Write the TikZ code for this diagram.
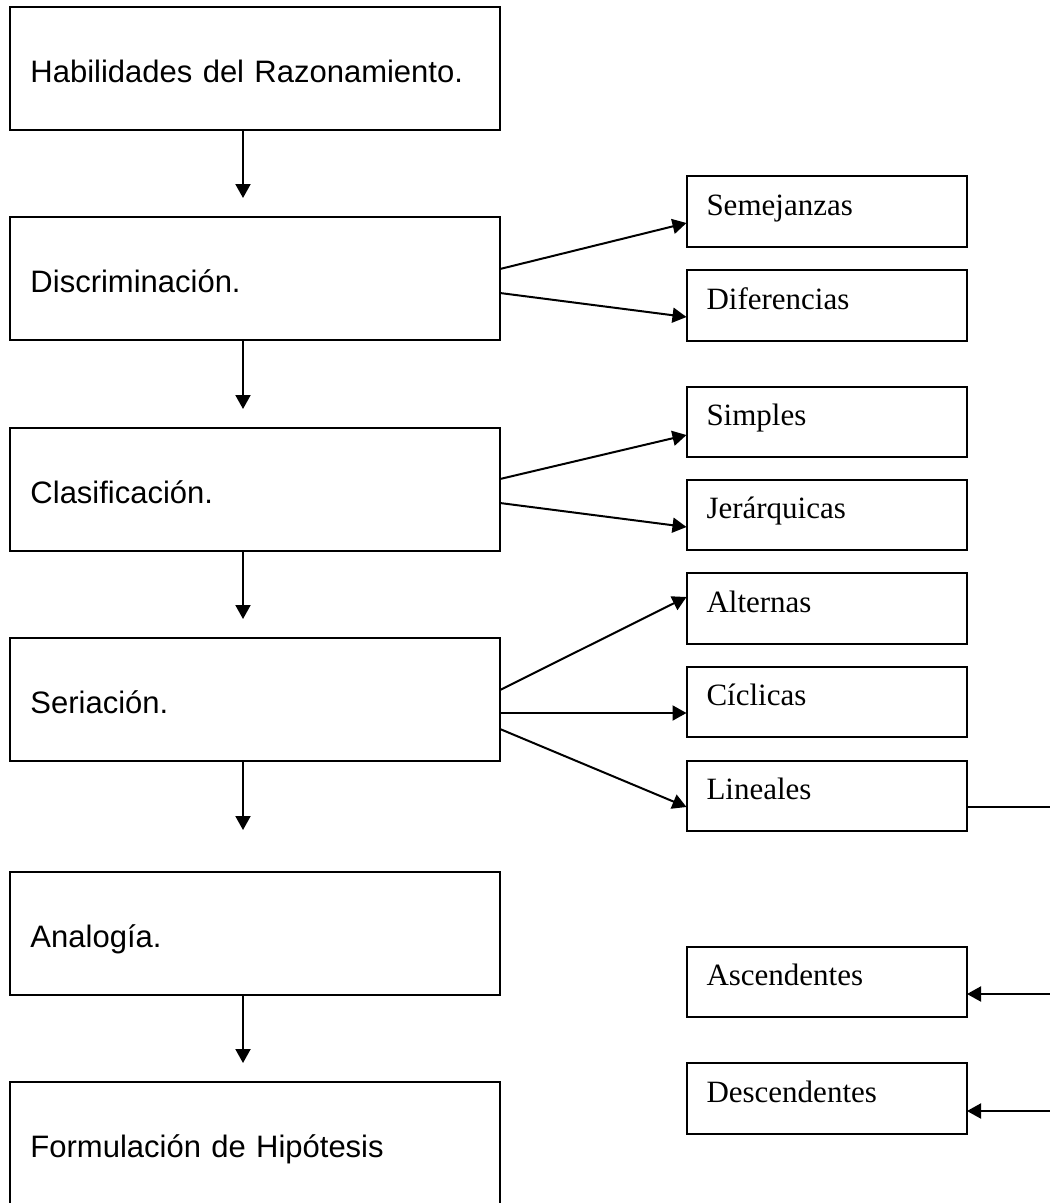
\documentclass[tikz,border=0pt]{standalone}
\usepackage{fontspec}
\newfontfamily\lsans{Liberation Sans}
\newfontfamily\lserif{Liberation Serif}
\usetikzlibrary{arrows.meta}
\tikzset{
  lbox/.style={draw, line width=2pt, rectangle, anchor=north west, outer sep=0pt,
    minimum width=490.5pt, minimum height=123pt, inner xsep=21pt, inner ysep=0pt,
    text width=448.5pt, align=left, text height=28pt, text depth=0pt,
    font=\lsans\fontsize{31}{37}\selectfont},
  rbox/.style={draw, line width=2pt, rectangle, anchor=north west, outer sep=0pt,
    minimum width=280.5pt, minimum height=70.5pt, inner xsep=20pt, inner ysep=0pt,
    text width=240.5pt, align=left, text height=18pt, text depth=10pt,
    font=\lserif\fontsize{31}{37}\selectfont},
  arr/.style={line width=2pt, -{Triangle[length=14pt,width=15pt]}},
  ln/.style={line width=2pt},
}
\begin{document}
\begin{tikzpicture}[x=1pt,y=-1pt]
\useasboundingbox (0,0) rectangle (1050,1203);
% left column
\node[lbox] (B1) at (9.5,7) {Habilidades del Razonamiento.};
\node[lbox] (B2) at (9.5,217) {Discriminación.};
\node[lbox] (B3) at (9.5,427.7) {Clasificación.};
\node[lbox] (B4) at (9.5,637.7) {Seriación.};
\node[lbox] (B5) at (9.5,871.7) {Analogía.};
\node[lbox] (B6) at (9.5,1081.7) {Formulación de Hipótesis};
% right column
\node[rbox] (R1) at (686.5,176) {Semejanzas};
\node[rbox] (R2) at (686.5,270) {Diferencias};
\node[rbox] (R3) at (686.5,386.7) {Simples};
\node[rbox] (R4) at (686.5,479.7) {Jerárquicas};
\node[rbox] (R5) at (686.5,573) {Alternas};
\node[rbox] (R6) at (686.5,666.7) {Cíclicas};
\node[rbox] (R7) at (686.5,760.7) {Lineales};
\node[rbox] (R8) at (686.5,946.7) {Ascendentes};
\node[rbox] (R9) at (686.5,1063.3) {Descendentes};
% free ends of vertical arrows
\coordinate (t1) at (243,198);
\coordinate (t2) at (243,409);
\coordinate (t3) at (243,619);
\coordinate (t4) at (243,830);
\coordinate (t5) at (243,1063);
\draw[arr] (B1.south -| t1) -- (t1);
\draw[arr] (B2.south -| t2) -- (t2);
\draw[arr] (B3.south -| t3) -- (t3);
\draw[arr] (B4.south -| t4) -- (t4);
\draw[arr] (B5.south -| t5) -- (t5);
% branches
\draw[arr] ([yshift=-52pt]B2.north east) -- ([yshift=-47pt]R1.north west);
\draw[arr] ([yshift=-76pt]B2.north east) -- ([yshift=-47pt]R2.north west);
\draw[arr] ([yshift=-51.3pt]B3.north east) -- ([yshift=-48.3pt]R3.north west);
\draw[arr] ([yshift=-75.3pt]B3.north east) -- ([yshift=-47.3pt]R4.north west);
\draw[arr] ([yshift=-52.3pt]B4.north east) -- ([yshift=-24pt]R5.north west);
\draw[arr] ([yshift=-75.3pt]B4.north east) -- ([yshift=-46.3pt]R6.north west);
\draw[arr] ([yshift=-91.3pt]B4.north east) -- ([yshift=-46.3pt]R7.north west);
% lines at right edge
\coordinate (e7) at (1052,806.7);
\coordinate (e8) at (1052,994);
\coordinate (e9) at (1052,1111);
\draw[ln] ([yshift=-46pt]R7.north east) -- (e7);
\draw[arr] (e8) -- ([yshift=-47.3pt]R8.north east);
\draw[arr] (e9) -- ([yshift=-47.7pt]R9.north east);
\end{tikzpicture}
\end{document}
